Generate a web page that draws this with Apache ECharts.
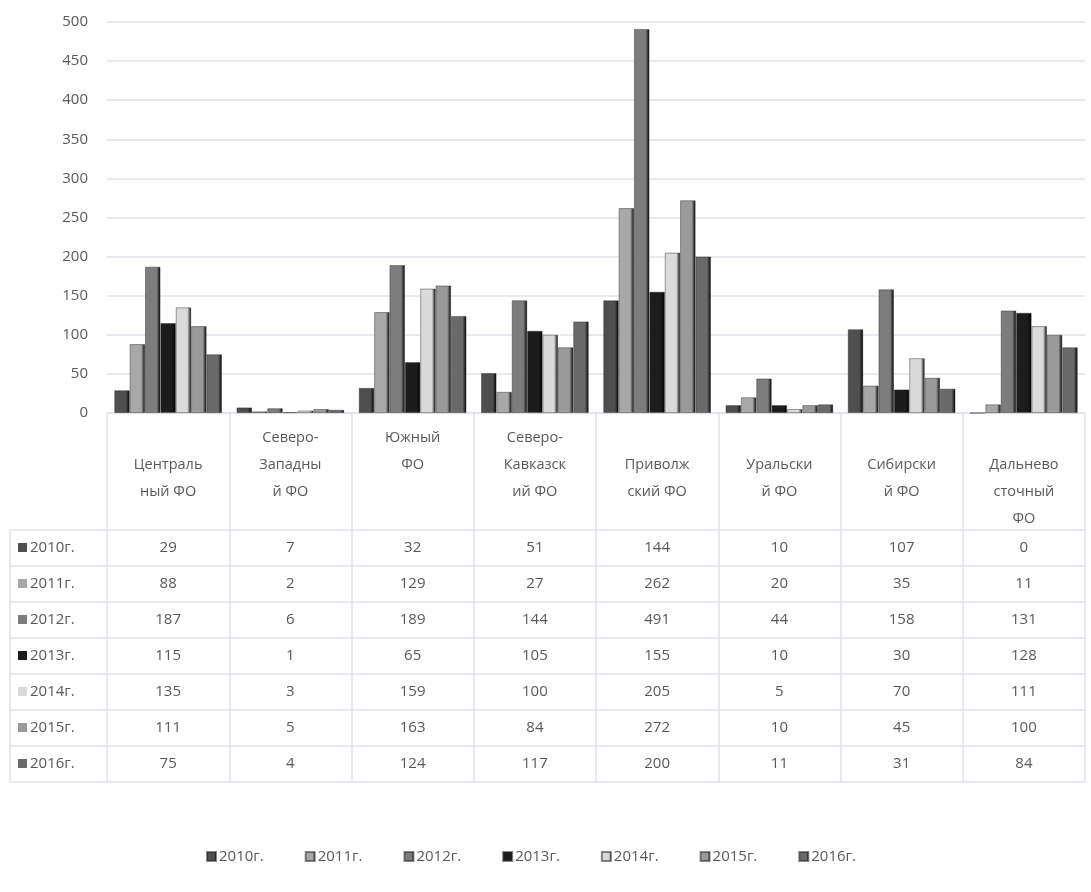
<!DOCTYPE html>
<html>
<head>
<meta charset="utf-8">
<script src="https://cdn.jsdelivr.net/npm/echarts@6/dist/echarts.min.js"></script>
<style>
html,body{margin:0;padding:0;background:#fff;}
#chart{width:1091px;height:892px;}
</style>
</head>
<body>
<div id="chart"></div>
<script>
const categories = ['Центральный ФО','Северо-Западный ФО','Южный ФО','Северо-Кавказский ФО','Приволжский ФО','Уральский ФО','Сибирский ФО','Дальневосточный ФО'];
const headerLabels = ['\nЦентраль\nный ФО','Северо-\nЗападны\nй ФО','Южный\nФО','Северо-\nКавказск\nий ФО','\nПриволж\nский ФО','\nУральски\nй ФО','\nСибирски\nй ФО','\nДальнево\nсточный\nФО'];
const years = ['2010г.','2011г.','2012г.','2013г.','2014г.','2015г.','2016г.'];
const v2010 = [29, 7, 32, 51, 144, 10, 107, 0];
const v2011 = [88, 2, 129, 27, 262, 20, 35, 11];
const v2012 = [187, 6, 189, 144, 491, 44, 158, 131];
const v2013 = [115, 1, 65, 105, 155, 10, 30, 128];
const v2014 = [135, 3, 159, 100, 205, 5, 70, 111];
const v2015 = [111, 5, 163, 84, 272, 10, 45, 100];
const v2016 = [75, 4, 124, 117, 200, 11, 31, 84];
const yMin = 0, yMax = 500, yInterval = 50;

const seriesValues = [v2010, v2011, v2012, v2013, v2014, v2015, v2016];
const colors = ['#4f4f4f','#a8a8a8','#7d7d7d','#1c1c1c','#dadada','#9a9a9a','#6a6a6a'];

const FONT = '"Open Sans", "Noto Sans", sans-serif';
const TXT = '#595959';
const LINE = '#dfe4ea';

const gridLeft = 107, gridRight = 6, floorY = 413, gridTop = 22;
const W = 1091, H = 892;
const headerH = 117, rowH = 36, tableLeft = 10;
const tableRight = W - gridRight;
const firstRowTop = floorY + headerH;

function shade(c) {
  return new echarts.graphic.LinearGradient(0, 0, 1, 0, [
    {offset: 0, color: c},
    {offset: 0.75, color: c},
    {offset: 1, color: echarts.color.modifyHSL(c, null, null, -0.12) || c}
  ]);
}

const xAxes = [{
  type: 'category',
  data: categories,
  position: 'bottom',
  axisLine: {show: true, lineStyle: {color: LINE, width: 1.5}},
  axisTick: {show: true, interval: 0, alignWithLabel: false, length: headerH + rowH * years.length - 1, lineStyle: {color: LINE, width: 1.5}},
  axisLabel: {
    interval: 0, margin: 11, color: TXT, fontFamily: FONT, fontSize: 14.5, lineHeight: 27,
    verticalAlign: 'top',
    formatter: (v, i) => headerLabels[i]
  }
}];
seriesValues.forEach((vals, r) => {
  xAxes.push({
    type: 'category',
    data: vals.map(String),
    position: 'bottom',
    offset: headerH + rowH * r + rowH / 2,
    axisLine: {show: false},
    axisTick: {show: false},
    axisLabel: {interval: 0, margin: 0, verticalAlign: 'middle', color: TXT, fontFamily: FONT, fontSize: 15}
  });
});

const graphics = [];
for (let k = 0; k <= years.length; k++) {
  const y = firstRowTop + rowH * k;
  graphics.push({type: 'line', shape: {x1: tableLeft, y1: y, x2: tableRight, y2: y}, style: {stroke: LINE, lineWidth: 1.5}, silent: true});
}
graphics.push({type: 'line', shape: {x1: tableLeft, y1: firstRowTop, x2: tableLeft, y2: firstRowTop + rowH * years.length}, style: {stroke: LINE, lineWidth: 1.5}, silent: true});
years.forEach((yr, r) => {
  const cy = firstRowTop + rowH * r + rowH / 2;
  graphics.push({type: 'rect', shape: {x: 18, y: cy - 5, width: 9, height: 9}, style: {fill: colors[r]}, silent: true});
  graphics.push({type: 'text', x: 30, y: cy, style: {text: yr, fill: TXT, font: '15px ' + FONT, verticalAlign: 'middle', align: 'left'}, silent: true});
});

const option = {
  backgroundColor: '#fff',
  animation: false,
  grid: {left: gridLeft, right: gridRight, top: gridTop, bottom: H - floorY, containLabel: false},
  legend: {
    bottom: 23, left: 201,
    itemWidth: 9, itemHeight: 9, itemGap: 41, icon: 'rect',
    textStyle: {color: TXT, fontFamily: FONT, fontSize: 15, padding: [0, 0, 0, -2]},
    data: years
  },
  xAxis: xAxes,
  yAxis: {
    type: 'value', min: yMin, max: yMax, interval: yInterval,
    axisLine: {show: false}, axisTick: {show: false},
    axisLabel: {color: TXT, fontFamily: FONT, fontSize: 15, margin: 19},
    splitLine: {lineStyle: {color: LINE, width: 1.5}}
  },
  series: seriesValues.map((vals, i) => ({
    name: years[i],
    type: 'bar',
    xAxisIndex: 0,
    data: vals,
    barGap: '0%',
    barCategoryGap: '12%',
    itemStyle: {color: shade(colors[i]), borderColor: 'rgba(40,40,40,0.55)', borderWidth: 0.8}
  })),
  graphic: graphics
};

const chart = echarts.init(document.getElementById('chart'), null, {renderer: 'canvas'});
chart.setOption(option);
</script>
</body>
</html>
